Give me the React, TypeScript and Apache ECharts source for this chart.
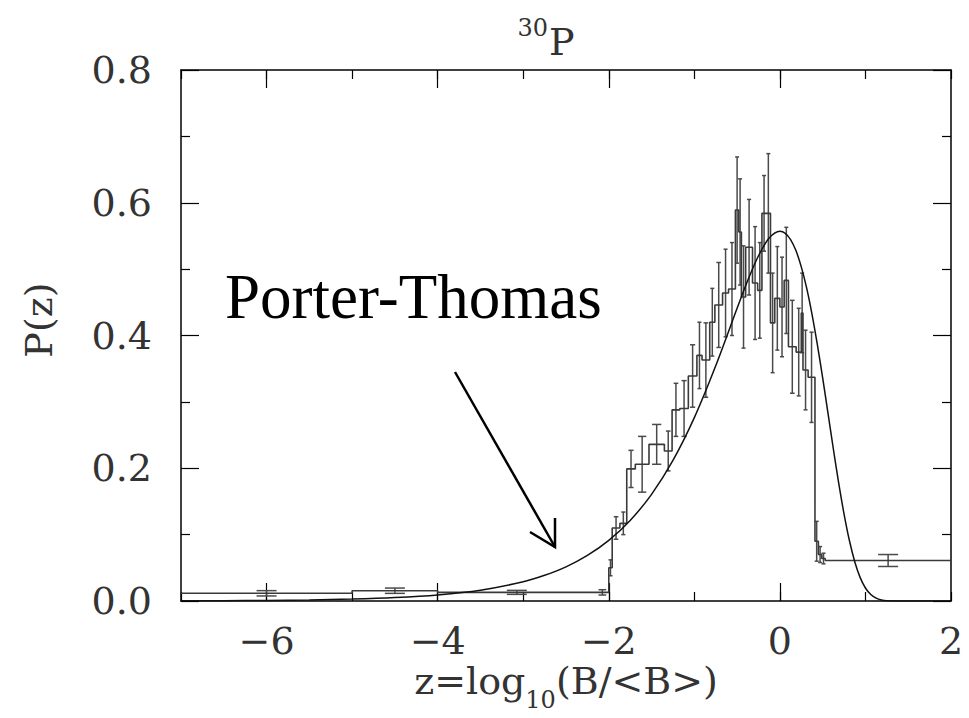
import React, { useEffect, useRef } from "react";
import * as echarts from "echarts";

// ---- Data ----
// x tick labels (z) and major tick positions
const xLabelValues = [-6, -4, -2, 0, 2];
const xMajorTicks = [-6, -4, -2, 0];

// Histogram bins: left edge, right edge, height, error
const binLeft = [
  -7.0, -5.0, -4.0, -2.15, -2.0, -1.96, -1.87, -1.79, -1.69, -1.53, -1.35, -1.26, -1.17, -1.07,
  -0.97, -0.91, -0.82, -0.76, -0.67, -0.6, -0.52, -0.48, -0.45, -0.4, -0.32, -0.26, -0.21, -0.16,
  -0.11, -0.06, 0.0, 0.05, 0.1, 0.19, 0.25, 0.27, 0.33, 0.41, 0.45, 0.49, 0.53,
];
const binRight = [
  -5.0, -4.0, -2.15, -2.0, -1.96, -1.87, -1.79, -1.69, -1.53, -1.35, -1.26, -1.17, -1.07, -0.97,
  -0.91, -0.82, -0.76, -0.67, -0.6, -0.52, -0.48, -0.45, -0.4, -0.32, -0.26, -0.21, -0.16, -0.11,
  -0.06, 0.0, 0.05, 0.1, 0.19, 0.25, 0.27, 0.33, 0.41, 0.45, 0.49, 0.53, 2.0,
];
const binValue = [
  0.0116, 0.0155, 0.013, 0.013, 0.05, 0.11, 0.117, 0.199, 0.206, 0.236, 0.226, 0.288, 0.29, 0.339,
  0.37, 0.363, 0.42, 0.446, 0.464, 0.47, 0.589, 0.556, 0.458, 0.533, 0.479, 0.468, 0.584, 0.584,
  0.419, 0.456, 0.443, 0.483, 0.383, 0.375, 0.434, 0.348, 0.337, 0.09, 0.07, 0.064, 0.061,
];
const binError = [
  0.004, 0.004, 0.003, 0.004, 0.012, 0.017, 0.017, 0.028, 0.042, 0.03, 0.03, 0.04, 0.042, 0.047,
  0.05, 0.056, 0.051, 0.064, 0.066, 0.07, 0.08, 0.08, 0.077, 0.072, 0.085, 0.072, 0.057, 0.09,
  0.075, 0.078, 0.075, 0.08, 0.07, 0.066, 0.06, 0.06, 0.068, 0.03, 0.012, 0.008, 0.009,
];

// Porter-Thomas curve
const ptZ = [
  -7, -6.5, -6, -5.5, -5, -4.5, -4, -3.5, -3, -2.75, -2.5, -2.25, -2, -1.75, -1.5, -1.25, -1,
  -0.75, -0.5, -0.375, -0.25, -0.125, 0, 0.0625, 0.125, 0.1875, 0.25, 0.3125, 0.375, 0.4375, 0.5,
  0.5625, 0.625, 0.6875, 0.75, 0.8125, 0.875, 0.9375, 1.0, 1.0625, 1.125, 1.1875, 1.25, 1.375, 1.5,
  2.0,
];
const ptP = [
  0.0003, 0.0005, 0.0009, 0.0016, 0.0029, 0.0052, 0.0092, 0.0163, 0.029, 0.0387, 0.0515, 0.0687,
  0.0914, 0.1214, 0.1607, 0.2118, 0.2763, 0.3544, 0.441, 0.4832, 0.5201, 0.5468, 0.557, 0.554,
  0.5446, 0.528, 0.5034, 0.4717, 0.4323, 0.3865, 0.336, 0.2828, 0.229, 0.1776, 0.131, 0.0911,
  0.0592, 0.0356, 0.0196, 0.0097, 0.0043, 0.0016, 0.0005, 0.00003, 0, 0,
];

const LABEL_FONT = "DejaVu Serif";
const TEXT_COLOR = "#333";

function fmtNum(v: number): string {
  return v < 0 ? "\u2212" + Math.abs(v) : String(v);
}

export default function App() {
  const ref = useRef<HTMLDivElement>(null);

  useEffect(() => {
    document.body.style.margin = "0";
    if (!ref.current) return;
    const chart = echarts.init(ref.current, undefined, { renderer: "svg" });

    const stepData: number[][] = [];
    binLeft.forEach((l, i) => {
      stepData.push([l, binValue[i]]);
      stepData.push([binRight[i], binValue[i]]);
    });
    const errData = binLeft.map((l, i) => [
      (l + binRight[i]) / 2,
      binValue[i],
      binError[i],
      binRight[i] - l,
    ]);
    const curveData = ptZ.map((z, i) => [z, ptP[i]]);

    const frame = { show: true, onZero: false, lineStyle: { color: "#000", width: 1.5 } };
    const noLine = { show: false, onZero: false };
    const tickStyle = { color: "#000", width: 1.2 };
    const baseX = {
      type: "value" as const,
      min: -7,
      max: 2,
      interval: 1,
      splitLine: { show: false },
    };
    const baseY = {
      type: "value" as const,
      min: 0,
      max: 0.8,
      interval: 0.2,
      splitLine: { show: false },
    };

    chart.setOption({
      animation: false,
      backgroundColor: "#fff",
      grid: { left: 181, right: 18, top: 70, bottom: 117, containLabel: false },
      xAxis: [
        {
          ...baseX,
          position: "bottom",
          axisLine: frame,
          axisTick: { show: true, inside: true, length: 9, lineStyle: tickStyle },
          axisLabel: {
            show: true,
            customValues: xLabelValues,
            formatter: (v: number) => fmtNum(v),
            margin: 23,
            fontFamily: LABEL_FONT,
            fontSize: 38,
            lineHeight: 34,
            color: TEXT_COLOR,
          },
        },
        {
          ...baseX,
          position: "bottom",
          axisLine: noLine,
          axisTick: { show: true, inside: true, length: 18, customValues: xMajorTicks, lineStyle: tickStyle },
          axisLabel: { show: false },
        },
        {
          ...baseX,
          position: "top",
          axisLine: frame,
          axisTick: { show: true, inside: true, length: 9, lineStyle: tickStyle },
          axisLabel: { show: false },
        },
        {
          ...baseX,
          position: "top",
          axisLine: noLine,
          axisTick: { show: true, inside: true, length: 18, customValues: xMajorTicks, lineStyle: tickStyle },
          axisLabel: { show: false },
        },
      ],
      yAxis: [
        {
          ...baseY,
          position: "left",
          axisLine: frame,
          axisTick: { show: true, inside: true, length: 18, lineStyle: tickStyle },
          minorTick: { show: true, splitNumber: 2, length: 9, lineStyle: tickStyle },
          axisLabel: {
            show: true,
            formatter: (v: number) => v.toFixed(1),
            margin: 29,
            fontFamily: LABEL_FONT,
            fontSize: 38,
            color: TEXT_COLOR,
          },
        },
        {
          ...baseY,
          position: "right",
          axisLine: frame,
          axisTick: { show: true, inside: true, length: 18, lineStyle: tickStyle },
          minorTick: { show: true, splitNumber: 2, length: 9, lineStyle: tickStyle },
          axisLabel: { show: false },
        },
      ],
      series: [
        {
          name: "histogram",
          type: "line",
          xAxisIndex: 0,
          yAxisIndex: 0,
          data: stepData,
          symbol: "none",
          lineStyle: { color: "#3a3a3a", width: 1.6 },
          z: 3,
        },
        {
          name: "errors",
          type: "custom",
          xAxisIndex: 0,
          yAxisIndex: 0,
          data: errData,
          renderItem: (params: any, api: any) => {
            const x = api.value(0);
            const y = api.value(1);
            const e = api.value(2);
            const w = api.value(3);
            const top = api.coord([x, y + e]);
            const bot = api.coord([x, y - e]);
            const wPx = Math.abs(api.size([w, 0])[0]);
            const half = Math.max(2, Math.min(10, wPx * 0.3));
            const style = { stroke: "#4a4a4a", lineWidth: 1.5, fill: "none" };
            return {
              type: "group",
              children: [
                { type: "line", shape: { x1: top[0], y1: top[1], x2: bot[0], y2: bot[1] }, style },
                { type: "line", shape: { x1: top[0] - half, y1: top[1], x2: top[0] + half, y2: top[1] }, style },
                { type: "line", shape: { x1: bot[0] - half, y1: bot[1], x2: bot[0] + half, y2: bot[1] }, style },
              ],
            };
          },
          z: 3,
        },
        {
          name: "Porter-Thomas",
          type: "line",
          xAxisIndex: 0,
          yAxisIndex: 0,
          data: curveData,
          symbol: "none",
          smooth: 0.3,
          lineStyle: { color: "#111", width: 1.5 },
          z: 4,
        },
      ],
      graphic: [
        {
          type: "text",
          x: 548,
          y: 28,
          style: {
            text: "30",
            fontFamily: LABEL_FONT,
            fontSize: 24,
            fill: TEXT_COLOR,
            align: "right",
            verticalAlign: "middle",
          },
        },
        {
          type: "text",
          x: 549,
          y: 42,
          style: {
            text: "P",
            fontFamily: LABEL_FONT,
            fontSize: 38,
            fill: TEXT_COLOR,
            align: "left",
            verticalAlign: "middle",
          },
        },
        {
          type: "text",
          x: 39,
          y: 320,
          rotation: Math.PI / 2,
          style: {
            text: "P(z)",
            fontFamily: LABEL_FONT,
            fontSize: 38,
            fill: TEXT_COLOR,
            align: "center",
            verticalAlign: "middle",
          },
        },
        {
          type: "text",
          x: 566,
          y: 662,
          style: {
            text: "{m|z=log}{s|10}{m|(B/<B>)}",
            fontFamily: LABEL_FONT,
            fontSize: 38,
            fill: TEXT_COLOR,
            align: "center",
            verticalAlign: "top",
            rich: {
              m: { fontFamily: LABEL_FONT, fontSize: 38, lineHeight: 42, verticalAlign: "top", fill: TEXT_COLOR },
              s: {
                fontFamily: LABEL_FONT,
                fontSize: 24,
                lineHeight: 24,
                verticalAlign: "top",
                padding: [26, 0, 0, 0],
                fill: TEXT_COLOR,
              },
            },
          },
        },
        {
          type: "text",
          x: 225,
          y: 297,
          style: {
            text: "Porter-Thomas",
            fontFamily: "Liberation Serif",
            fontSize: 63,
            fill: "#000",
            align: "left",
            verticalAlign: "middle",
          },
        },
        {
          type: "line",
          shape: { x1: 455, y1: 372, x2: 555, y2: 547 },
          style: { stroke: "#000", lineWidth: 2.5 },
        },
        {
          type: "polyline",
          shape: { points: [[530, 532], [555, 547], [555, 518]] },
          style: { stroke: "#000", lineWidth: 2.5, fill: "none" },
        },
      ],
    });

    return () => {
      chart.dispose();
    };
  }, []);

  return <div ref={ref} style={{ width: 969, height: 718 }} />;
}
